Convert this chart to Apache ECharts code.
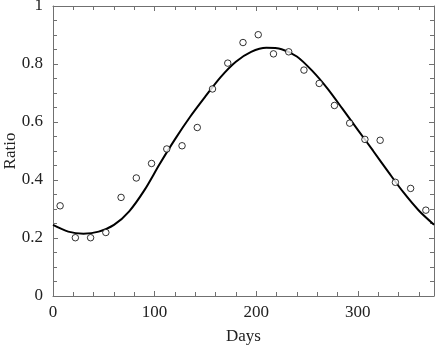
<!DOCTYPE html>
<html><head><meta charset="utf-8">
<script src="https://cdn.jsdelivr.net/npm/echarts@6/dist/echarts.min.js"></script>
<style>html,body{margin:0;padding:0;background:#fff}#c{width:436px;height:347px}</style>
</head><body><div id="c"></div>
<script>
// observed data points
const obsDays = [7, 22, 37, 52, 67, 82, 97, 112, 127, 142, 157, 172, 187, 202, 217, 232, 247, 262, 277, 292, 307, 322, 337, 352, 367];
const obsRatio = [0.311, 0.201, 0.201, 0.219, 0.340, 0.407, 0.457, 0.507, 0.518, 0.581, 0.714, 0.803, 0.874, 0.901, 0.835, 0.842, 0.779, 0.733, 0.657, 0.596, 0.540, 0.537, 0.392, 0.371, 0.296];
// fitted curve
const fitDays = [0, 15, 30, 45, 60, 75, 90, 105, 120, 135, 150, 165, 180, 195, 210, 225, 240, 255, 270, 285, 300, 315, 330, 345, 360, 375];
const fitRatio = [0.245, 0.222, 0.215, 0.222, 0.245, 0.292, 0.365, 0.455, 0.540, 0.618, 0.688, 0.755, 0.808, 0.842, 0.856, 0.851, 0.826, 0.777, 0.716, 0.645, 0.573, 0.501, 0.428, 0.357, 0.295, 0.246];
const xTicks = [0, 100, 200, 300];
const yTicks = [0, 0.2, 0.4, 0.6, 0.8, 1];

const font = 'Liberation Serif';
const axisCol = '#707070';
const chart = echarts.init(document.getElementById('c'), null, {renderer: 'canvas'});
const baseX = {
  type: 'value', min: 0, max: 375, interval: 100,
  axisLine: {show: true, onZero: false, lineStyle: {color: axisCol, width: 1}},
  axisTick: {show: true, inside: true, length: 5, lineStyle: {color: axisCol}},
  minorTick: {show: true, splitNumber: 5, length: 4, lineStyle: {color: axisCol}},
  splitLine: {show: false}
};
const baseY = {
  type: 'value', min: 0, max: 1, interval: 0.2,
  axisLine: {show: true, onZero: false, lineStyle: {color: axisCol, width: 1}},
  axisTick: {show: true, inside: true, length: 5, lineStyle: {color: axisCol}},
  minorTick: {show: true, splitNumber: 4, length: 4, lineStyle: {color: axisCol}},
  splitLine: {show: false}
};
chart.setOption({
  animation: false,
  backgroundColor: '#fff',
  grid: {left: 53, right: 2, top: 6, bottom: 51, containLabel: false, outerBoundsMode: 'none'},
  xAxis: [
    Object.assign({}, baseX, {
      position: 'bottom', name: 'Days', nameLocation: 'middle', nameGap: 32, nameMoveOverlap: false,
      nameTextStyle: {fontFamily: font, fontSize: 17, color: '#222'},
      axisLabel: {show: true, margin: 8, fontFamily: font, fontSize: 17, color: '#222',
        formatter: v => xTicks.includes(v) ? String(v) : ''}
    }),
    Object.assign({}, baseX, {position: 'top', axisLabel: {show: false}})
  ],
  yAxis: [
    Object.assign({}, baseY, {
      position: 'left', name: 'Ratio', nameLocation: 'middle', nameGap: 34, nameMoveOverlap: false,
      nameTextStyle: {fontFamily: font, fontSize: 17, color: '#222'},
      axisLabel: {show: true, margin: 10, fontFamily: font, fontSize: 17, color: '#222',
        formatter: v => { const t = yTicks.find(k => Math.abs(k - v) < 1e-9); return t === undefined ? '' : String(t); }}
    }),
    Object.assign({}, baseY, {position: 'right', axisLabel: {show: false}})
  ],
  series: [
    {
      type: 'line', xAxisIndex: 0, yAxisIndex: 0,
      data: fitDays.map((d, i) => [d, fitRatio[i]]),
      smooth: 0.3, showSymbol: false, symbol: 'none',
      lineStyle: {color: '#000', width: 2}, z: 3
    },
    {
      type: 'scatter', xAxisIndex: 0, yAxisIndex: 0,
      data: obsDays.map((d, i) => [d, obsRatio[i]]),
      symbol: 'circle', symbolSize: 6.5,
      itemStyle: {color: '#fff', borderColor: '#000', borderWidth: 1}, z: 4
    }
  ]
});
</script></body></html>
